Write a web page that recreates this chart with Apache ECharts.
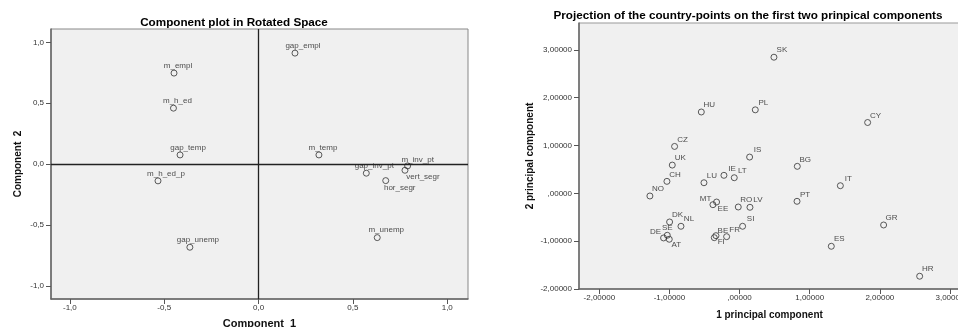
<!DOCTYPE html>
<html>
<head>
<meta charset="utf-8">
<script src="https://cdn.jsdelivr.net/npm/echarts@6/dist/echarts.min.js"></script>
<style>
  html, body { margin: 0; padding: 0; background: #fff; }
  #chart { width: 958px; height: 327px; }
</style>
</head>
<body>
<div id="chart"></div>
<script>
// left panel: rotated component loadings
const loadingNames = ['gap_empl', 'm_empl', 'm_h_ed', 'gap_temp', 'm_temp', 'm_inv_pt', 'gap_inv_pt', 'vert_segr', 'hor_segr', 'm_h_ed_p', 'gap_unemp', 'm_unemp']
const comp1 = [0.193, -0.448, -0.451, -0.416, 0.320, 0.790, 0.571, 0.776, 0.674, -0.533, -0.364, 0.629]
const comp2 = [0.912, 0.748, 0.460, 0.076, 0.076, -0.014, -0.074, -0.050, -0.135, -0.137, -0.682, -0.603]
const loadingTicks = [-1, -0.5, 0, 0.5, 1]

// right panel: country scores
const countries = ['SK', 'HU', 'PL', 'CY', 'CZ', 'IS', 'UK', 'BG', 'CH', 'IE', 'LT', 'LU', 'IT', 'NO', 'PT', 'MT', 'EE', 'RO', 'LV', 'SI', 'DK', 'NL', 'SE', 'DE', 'AT', 'BE', 'FI', 'FR', 'ES', 'GR', 'HR']
const pc1 = [0.490, -0.546, 0.224, 1.826, -0.927, 0.143, -0.960, 0.823, -1.036, -0.223, -0.076, -0.508, 1.437, -1.279, 0.819, -0.328, -0.380, -0.019, 0.148, 0.043, -0.998, -0.836, -1.031, -1.084, -1.003, -0.337, -0.361, -0.185, 1.308, 2.054, 2.568]
const pc2 = [2.845, 1.700, 1.745, 1.480, 0.980, 0.758, 0.590, 0.564, 0.250, 0.376, 0.326, 0.221, 0.159, -0.056, -0.167, -0.182, -0.238, -0.286, -0.292, -0.689, -0.599, -0.689, -0.877, -0.933, -0.960, -0.885, -0.927, -0.906, -1.107, -0.662, -1.733]
const scoreTicks = [-2, -1, 0, 1, 2, 3]

// label nudges (label centre relative to point), default up-right
const loadingNudge = {
  m_empl: [4, -7], m_h_ed: [4, -7], m_temp: [4, -7], m_inv_pt: [10, -6],
  vert_segr: [18, 7], hor_segr: [14, 7], m_unemp: [9, -8]
}
const countryNudge = {
  MT: [-11, -3], EE: [10, 4], SE: [0, -7], DE: [-8, -6], AT: [7, 6], FI: [7, 4], BE: [7, -5]
}

const FONT = 'Liberation Sans, Arial, sans-serif'

const fmtLoading = v => v.toFixed(1).replace('.', ',')
const fmtScore = v => v === 0 ? ',00000' : v.toFixed(5).replace('.', ',')

const pts = (names, xs, ys, nudge) => names.map((n, i) => ({
  name: n,
  value: [xs[i], ys[i]],
  label: { offset: nudge[n] || [8, -7] }
}))

const axisCommon = (ticks, fmt, margin) => ({
  type: 'value',
  splitLine: { show: false },
  axisLine: { show: true, onZero: false, lineStyle: { color: '#666', width: 1.5 } },
  axisTick: { show: true, length: 5, customValues: ticks, lineStyle: { color: '#555' } },
  axisLabel: { customValues: ticks, formatter: fmt, fontSize: 8, color: '#333', fontFamily: FONT, margin: margin },
  nameTextStyle: { fontSize: 10, fontWeight: 'bold', color: '#111', fontFamily: FONT }
})

const scatterCommon = {
  type: 'scatter',
  symbol: 'circle',
  symbolSize: 6,
  itemStyle: { color: 'rgba(0,0,0,0)', borderColor: '#333', borderWidth: 1 },
  label: { show: true, position: 'inside', formatter: '{b}', fontSize: 8, color: '#222', fontFamily: FONT },
  silent: true
}

const chart = echarts.init(document.getElementById('chart'))

chart.setOption({
  animation: false,
  backgroundColor: '#fff',
  title: [
    {
      text: 'Component plot in Rotated Space',
      left: 229, top: 12, textAlign: 'center',
      textStyle: { fontSize: 11.7, fontWeight: 'bold', color: '#000', fontFamily: FONT }
    },
    {
      text: 'Projection of the country-points on the first two prinpical components',
      left: 743, top: 5, textAlign: 'center',
      textStyle: { fontSize: 11.7, fontWeight: 'bold', color: '#000', fontFamily: FONT }
    }
  ],
  grid: [
    { left: 51, top: 29, right: 490, bottom: 28, outerBoundsMode: 'none', show: true, backgroundColor: '#f0f0f0', borderColor: '#888', borderWidth: 1 },
    { left: 579, top: 23, right: -13, bottom: 38, outerBoundsMode: 'none', show: true, backgroundColor: '#f0f0f0', borderColor: '#999', borderWidth: 1 }
  ],
  xAxis: [
    Object.assign(axisCommon(loadingTicks, fmtLoading, 5), {
      gridIndex: 0, min: -1.1, max: 1.11,
      name: 'Component  1', nameLocation: 'middle', nameGap: 19,
      nameTextStyle: { fontSize: 11, fontWeight: 'bold', color: '#111', fontFamily: FONT }
    }),
    Object.assign(axisCommon(scoreTicks, fmtScore, 5), {
      gridIndex: 1, min: -2.29, max: 3.3,
      name: '1 principal component', nameLocation: 'middle', nameGap: 21,
      nameTextStyle: { fontSize: 10, fontWeight: 'bold', color: '#111', fontFamily: FONT, padding: [0, 11, 0, 0] }
    })
  ],
  yAxis: [
    Object.assign(axisCommon(loadingTicks, fmtLoading, 7), {
      gridIndex: 0, min: -1.107, max: 1.11,
      name: 'Component  2', nameLocation: 'middle', nameGap: 28
    }),
    Object.assign(axisCommon(scoreTicks, fmtScore, 7), {
      gridIndex: 1, min: -2, max: 3.56,
      name: '2 principal component', nameLocation: 'middle', nameGap: 44
    })
  ],
  series: [
    Object.assign({}, scatterCommon, {
      xAxisIndex: 0, yAxisIndex: 0,
      data: pts(loadingNames, comp1, comp2, loadingNudge),
      markLine: {
        silent: true, symbol: 'none', animation: false,
        label: { show: false },
        lineStyle: { color: '#222', width: 1.3, type: 'solid' },
        data: [{ xAxis: 0 }, { yAxis: 0 }]
      }
    }),
    Object.assign({}, scatterCommon, {
      xAxisIndex: 1, yAxisIndex: 1,
      data: pts(countries, pc1, pc2, countryNudge)
    })
  ]
})
</script>
</body>
</html>
